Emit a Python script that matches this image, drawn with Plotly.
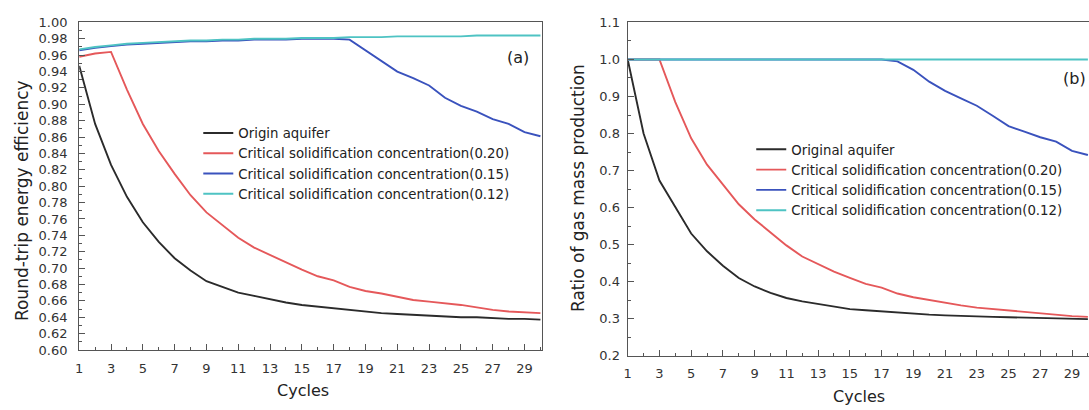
import plotly.graph_objects as go

# ---------------- data ----------------
cycles = list(range(1, 31))
x_ticks = list(range(1, 31, 2))

# panel (a) round-trip energy efficiency
eff_origin = [0.947, 0.876, 0.826, 0.787, 0.756, 0.732, 0.712, 0.697, 0.684, 0.677,
              0.670, 0.666, 0.662, 0.658, 0.655, 0.653, 0.651, 0.649, 0.647, 0.645,
              0.644, 0.643, 0.642, 0.641, 0.640, 0.640, 0.639, 0.638, 0.638, 0.637]
eff_c020 = [0.958, 0.962, 0.964, 0.918, 0.876, 0.843, 0.815, 0.789, 0.768, 0.752,
            0.737, 0.725, 0.716, 0.706, 0.698, 0.690, 0.685, 0.677, 0.672, 0.669,
            0.665, 0.661, 0.659, 0.657, 0.655, 0.652, 0.649, 0.647, 0.646, 0.645]
eff_c015 = [0.966, 0.969, 0.971, 0.973, 0.974, 0.975, 0.976, 0.977, 0.977, 0.978,
            0.978, 0.979, 0.979, 0.979, 0.980, 0.980, 0.980, 0.979, 0.966, 0.952,
            0.940, 0.932, 0.923, 0.908, 0.898, 0.891, 0.882, 0.876, 0.866, 0.861]
eff_c012 = [0.967, 0.970, 0.972, 0.974, 0.975, 0.976, 0.977, 0.978, 0.978, 0.979,
            0.979, 0.980, 0.980, 0.980, 0.981, 0.981, 0.981, 0.982, 0.982, 0.982,
            0.983, 0.983, 0.983, 0.983, 0.983, 0.984, 0.984, 0.984, 0.984, 0.984]
eff_ticks = [round(0.60 + 0.02 * i, 2) for i in range(21)]

# panel (b) ratio of gas mass production
gas_origin = [1.000, 0.800, 0.673, 0.600, 0.530, 0.482, 0.443, 0.410, 0.387, 0.370,
              0.356, 0.347, 0.340, 0.332, 0.326, 0.323, 0.320, 0.316, 0.313, 0.311,
              0.309, 0.307, 0.306, 0.305, 0.304, 0.303, 0.302, 0.301, 0.300, 0.299]
gas_c020 = [1.000, 1.000, 1.000, 0.885, 0.787, 0.716, 0.661, 0.609, 0.568, 0.533,
            0.498, 0.468, 0.447, 0.427, 0.410, 0.394, 0.384, 0.368, 0.358, 0.350,
            0.342, 0.336, 0.330, 0.326, 0.322, 0.317, 0.313, 0.309, 0.307, 0.305]
gas_c015 = [1.000, 1.000, 1.000, 1.000, 1.000, 1.000, 1.000, 1.000, 1.000, 1.000,
            1.000, 1.000, 1.000, 1.000, 1.000, 1.000, 1.000, 0.995, 0.972, 0.940,
            0.915, 0.895, 0.875, 0.848, 0.820, 0.805, 0.790, 0.778, 0.753, 0.742]
gas_c012 = [1.000] * 30
gas_ticks = [round(0.2 + 0.1 * i, 1) for i in range(10)]

names_a = ["Origin aquifer",
           "Critical solidification concentration(0.20)",
           "Critical solidification concentration(0.15)",
           "Critical solidification concentration(0.12)"]
names_b = ["Original aquifer",
           "Critical solidification concentration(0.20)",
           "Critical solidification concentration(0.15)",
           "Critical solidification concentration(0.12)"]
colors = ["#2b2b2b", "#e5585a", "#3a52bd", "#4ec3c3"]

# ---------------- figure ----------------
W, H = 1089, 410
FONT = "DejaVu Sans"
fig = go.Figure()

for name, ys, col in zip(names_a, [eff_origin, eff_c020, eff_c015, eff_c012], colors):
    fig.add_trace(go.Scatter(x=cycles, y=ys, mode="lines", name=name,
                             line=dict(color=col, width=1.9),
                             xaxis="x", yaxis="y", legend="legend"))
for name, ys, col in zip(names_b, [gas_origin, gas_c020, gas_c015, gas_c012], colors):
    fig.add_trace(go.Scatter(x=cycles, y=ys, mode="lines", name=name,
                             line=dict(color=col, width=1.9),
                             xaxis="x2", yaxis="y2", legend="legend2"))

axis_common = dict(showline=True, linecolor="#555555", linewidth=1.2,
                   ticks="inside", ticklen=6, tickwidth=1.2, tickcolor="#555555",
                   showgrid=False, zeroline=False,
                   tickfont=dict(family=FONT, size=13, color="#333333"))

fig.update_layout(
    width=W, height=H,
    margin=dict(l=0, r=0, t=0, b=0),
    paper_bgcolor="white", plot_bgcolor="white",
    font=dict(family=FONT, color="#222222"),
    xaxis=dict(domain=[75.5 / W, 540 / W], range=[1, 30.1], anchor="y",
               tickmode="array", tickvals=x_ticks, mirror=True,
               ticklabelstandoff=6,
               minor=dict(dtick=1, tick0=1, ticks="inside", ticklen=3,
                          tickcolor="#555555"),
               **axis_common),
    yaxis=dict(domain=[1 - 356 / H, 1 - 16 / H], range=[0.60, 1.00], anchor="x",
               tickmode="array", tickvals=eff_ticks, tickformat=".2f", mirror=True,
               ticklabelstandoff=8,
               minor=dict(dtick=0.01, tick0=0.6, ticks="inside", ticklen=3,
                          tickcolor="#555555"),
               **axis_common),
    xaxis2=dict(domain=[626 / W, 1.0], range=[1, 30.07], anchor="y2",
                tickmode="array", tickvals=x_ticks, mirror=True,
                ticklabelstandoff=6,
                minor=dict(dtick=1, tick0=1, ticks="inside", ticklen=3,
                           tickcolor="#555555"),
                **axis_common),
    yaxis2=dict(domain=[1 - 362 / H, 1 - 16 / H], range=[0.2, 1.1], anchor="x2",
                tickmode="array", tickvals=gas_ticks, tickformat=".1f", mirror=False,
                ticklabelstandoff=4,
                minor=dict(dtick=0.05, tick0=0.2, ticks="inside", ticklen=3,
                           tickcolor="#555555"),
                **axis_common),
    legend=dict(x=195 / W, y=1 - 115 / H, xanchor="left", yanchor="top",
                bgcolor="rgba(0,0,0,0)", borderwidth=0,
                font=dict(family=FONT, size=13.3, color="#222222")),
    legend2=dict(x=750 / W, y=1 - 132 / H, xanchor="left", yanchor="top",
                 bgcolor="rgba(0,0,0,0)", borderwidth=0,
                 font=dict(family=FONT, size=13.3, color="#222222")),
    showlegend=True,
)

annotations = [
    dict(text="Round-trip energy efficiency", x=17.5 / W, y=1 - 201 / H, textangle=-90,
         font=dict(family=FONT, size=17, color="#222222")),
    dict(text="Cycles", x=300 / W, y=1 - 398 / H,
         font=dict(family=FONT, size=16, color="#222222")),
    dict(text="(a)", x=515.5 / W, y=1 - 52.5 / H,
         font=dict(family=FONT, size=16, color="#222222")),
    dict(text="Ratio of gas mass production", x=576 / W, y=1 - 188 / H, textangle=-90,
         font=dict(family=FONT, size=17, color="#222222")),
    dict(text="Cycles", x=858 / W, y=1 - 404 / H,
         font=dict(family=FONT, size=16, color="#222222")),
    dict(text="(b)", x=1074.5 / W, y=1 - 74 / H,
         font=dict(family=FONT, size=16, color="#222222")),
]
for a in annotations:
    a.update(xref="paper", yref="paper", showarrow=False, xanchor="center", yanchor="middle")
fig.update_layout(annotations=annotations)

fig.write_html("out.html")
